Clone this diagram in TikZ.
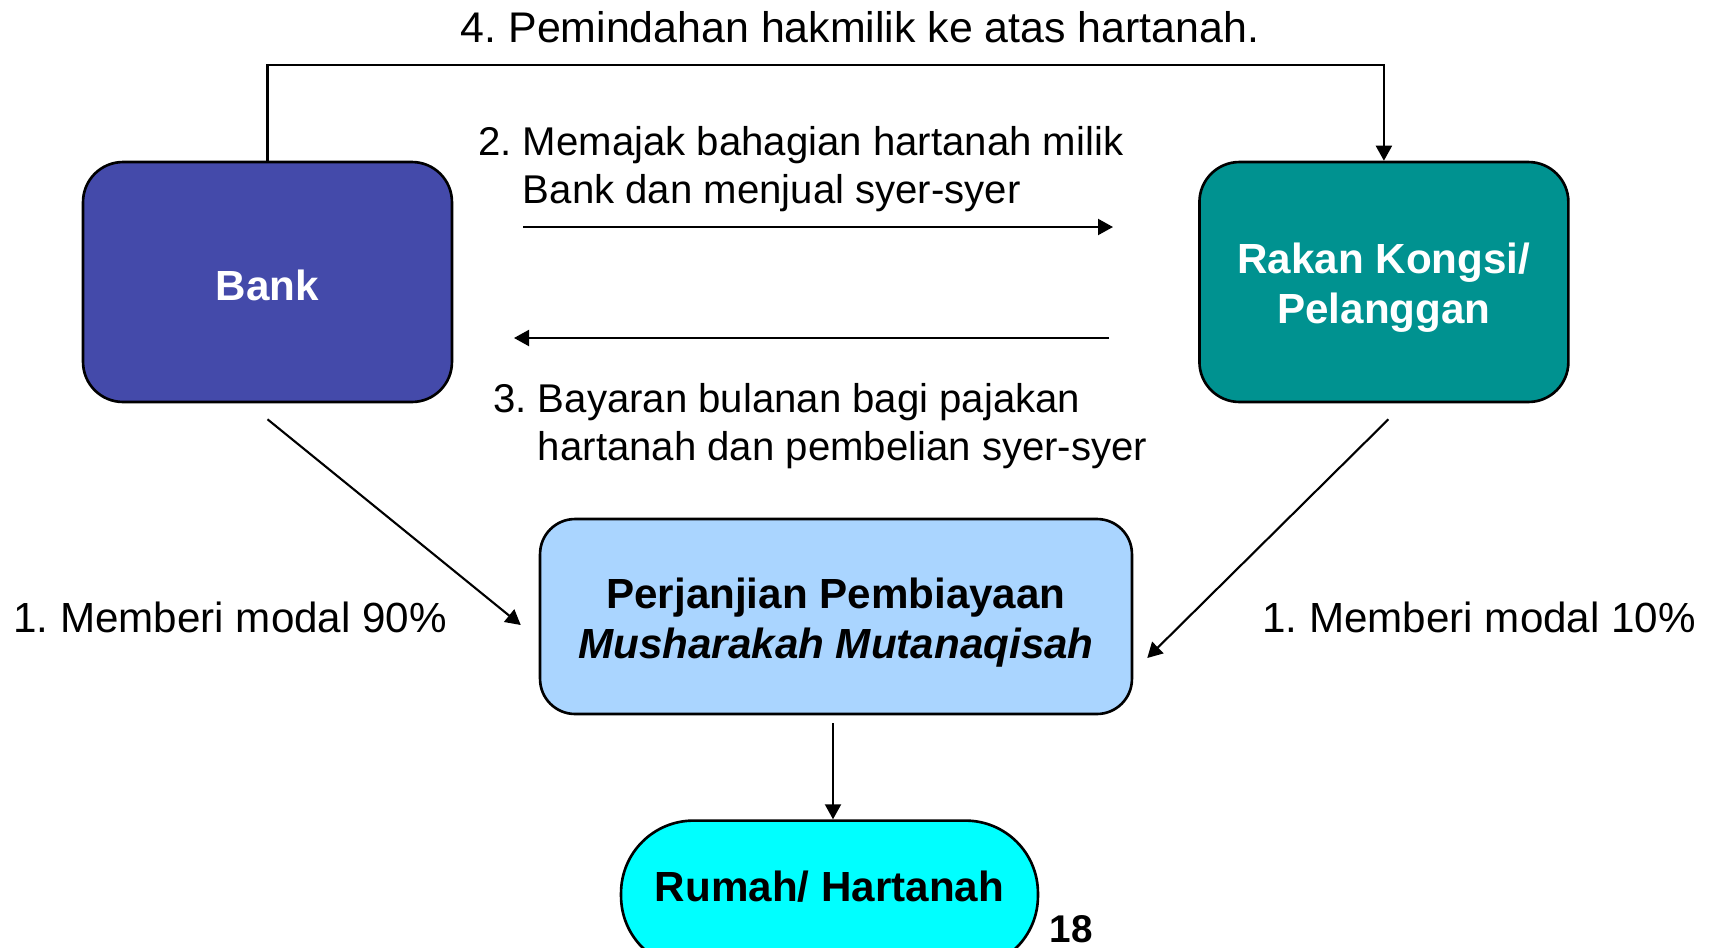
\documentclass[tikz,border=0pt]{standalone}
\usepackage{fontspec}
\setmainfont{Liberation Sans}
\usetikzlibrary{arrows.meta,positioning,calc}
\frenchspacing

\definecolor{bankblue}{RGB}{68,74,170}
\definecolor{rakanteal}{RGB}{0,146,144}
\definecolor{perjblue}{RGB}{170,213,255}
\definecolor{rumahcyan}{RGB}{0,255,255}

\begin{document}
\begin{tikzpicture}[
    x=0.02cm, y=-0.02cm,
    box/.style={draw,line width=1.5pt,rounded corners=0.8cm,align=center,font=\fontsize{24}{28.5}\selectfont\bfseries},
    lbl/.style={inner sep=0pt,align=left,font=\fontsize{22.85}{27.3}\selectfont},
    post/.style={-{Triangle[width=0.32cm,length=0.3cm]},line width=1.2pt}
    ]
\useasboundingbox (0,0) rectangle (1711,947);
\clip (0,0) rectangle (1711,947);

\node[box,fill=bankblue,text=white,minimum width=7.38cm,minimum height=4.8cm] (Bank) at (267.5,282) {\rule{0pt}{21.3pt}Bank};
\node[box,fill=rakanteal,text=white,minimum width=7.38cm,minimum height=4.8cm,right=14.9cm of Bank] (Rakan) {\rule{0pt}{24.3pt}Rakan Kongsi/\\Pelanggan};
\node[box,fill=perjblue,minimum width=11.84cm,minimum height=3.9cm,rounded corners=0.7cm] (Perj) at (836,616.5) {\rule{0pt}{24.3pt}Perjanjian Pembiayaan\\\itshape Musharakah Mutanaqisah};
\node[box,fill=rumahcyan,minimum width=8.34cm,minimum height=2.96cm,rounded corners=1.45cm,below=2.08cm of Perj,xshift=-0.13cm] (Rumah) {Rumah/ Hartanah\rule[-10pt]{0pt}{10pt}};

\node[lbl,font=\fontsize{24.4}{28}\selectfont] (t4) at (860,27) {4. Pemindahan hakmilik ke atas hartanah.};
\node[lbl,anchor=west] (t2) at (478,169) {2. Memajak bahagian hartanah milik\\\phantom{2. }Bank dan menjual syer-syer};
\node[lbl,anchor=west] (t3) at (493,426.5) {3. Bayaran bulanan bagi pajakan\\\phantom{3. }hartanah dan pembelian syer-syer};
\node[lbl,font=\fontsize{24}{28}\selectfont,anchor=west] (t1a) at (13,617) {1. Memberi modal 90\%};
\node[lbl,font=\fontsize{24}{28}\selectfont,anchor=west] (t1b) at (1262,617) {1. Memberi modal 10\%};
\node[lbl,font=\fontsize{22}{26}\selectfont\bfseries] (pg) at (1071,929) {18};

\coordinate (m2a) at (523,227);
\coordinate (m2b) at (1113,227);
\coordinate (m3a) at (1109,338);
\coordinate (m3b) at (514,338);

\draw[post] (Bank.north) -- ++(0,-96) -| (Rakan.north);
\draw[post] (m2a) -- (m2b);
\draw[post] (m3a) -- (m3b);
\draw[post] ([yshift=-0.32cm]Bank.south) -- ($(Perj.west)+(-18,8.5)$);
\draw[post] ($(Rakan.south)+(4.5,16)$) -- ($(Perj.east)+(14,41.5)$);
\draw[post,shorten <=0.16cm] ([xshift=-0.06cm]Perj.south) -- ([xshift=-0.06cm]Perj.south |- Rumah.north);

\end{tikzpicture}
\end{document}
